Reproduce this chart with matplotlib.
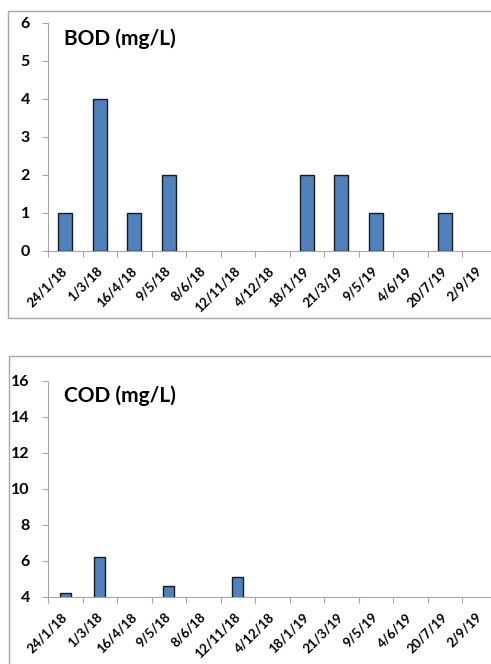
import matplotlib.pyplot as plt
from matplotlib.patches import Rectangle
import numpy as np

dates = ["24/1/18", "1/3/18", "16/4/18", "9/5/18", "8/6/18", "12/11/18", "4/12/18",
         "18/1/19", "21/3/19", "9/5/19", "4/6/19", "20/7/19", "2/9/19"]
bod = [1, 4, 1, 2, 0, 0, 0, 2, 2, 1, 0, 1, 0]
cod = [4.2, 6.2, 0, 4.6, 0, 5.1, 0, 0, 0, 0, 0, 0, 0]

plt.rcParams['font.family'] = ['Lato', 'DejaVu Sans']

fig = plt.figure(figsize=(4.91, 6.64), dpi=100)
W, H = 491, 664

# chart borders (cut off at the right / bottom like the reference)
fig.patches.append(Rectangle((8 / W, 1 - 318 / H), 500 / W, 307 / H, transform=fig.transFigure,
                             fill=False, edgecolor='#a6a6a6', lw=1))
fig.patches.append(Rectangle((9 / W, -0.05), 500 / W, 1 - 356 / H + 0.05, transform=fig.transFigure,
                             fill=False, edgecolor='#a6a6a6', lw=1))

x = np.arange(len(dates))


def style(ax, vals, width, ylim, yticks, title):
    vals = np.array(vals, dtype=float)
    keep = vals > 0
    ax.bar(x[keep], vals[keep], width=width, color='#4f81bd', edgecolor='#1a1a1a', lw=1, zorder=3)
    ax.set_xlim(-0.5, len(dates) - 0.5)
    ax.set_ylim(*ylim)
    ax.set_yticks(yticks)
    ax.set_yticklabels([str(v) for v in yticks], fontsize=11.5, fontweight='bold')
    ax.set_xticks(np.arange(len(dates) + 1) - 0.5)
    ax.set_xticklabels([])
    ax.set_xticks(x, minor=True)
    ax.set_xticklabels(dates, minor=True, rotation=45, ha='right', va='center',
                       rotation_mode='anchor', fontsize=9.5, fontweight='bold')
    ax.tick_params(axis='x', which='minor', length=0, pad=13)
    ax.tick_params(axis='x', which='major', length=4, color='#a6a6a6', direction='out')
    ax.tick_params(axis='y', length=4, color='#a6a6a6', pad=9)
    for s in ['top', 'right']:
        ax.spines[s].set_visible(False)
    for s in ['left', 'bottom']:
        ax.spines[s].set_color('#a6a6a6')
    ax.text(0.035, 0.93, title, transform=ax.transAxes, fontsize=15, fontweight='bold', va='center')


ax1 = fig.add_axes([48 / W, 413 / H, 448.5 / W, 228 / H])
style(ax1, bod, 0.4, (0, 6), [0, 1, 2, 3, 4, 5, 6], "BOD (mg/L)")

ax2 = fig.add_axes([48 / W, 67 / H, 448.5 / W, 216 / H])
style(ax2, cod, 0.32, (4, 16), [4, 6, 8, 10, 12, 14, 16], "COD (mg/L)")

fig.savefig("out.png", dpi=100)
